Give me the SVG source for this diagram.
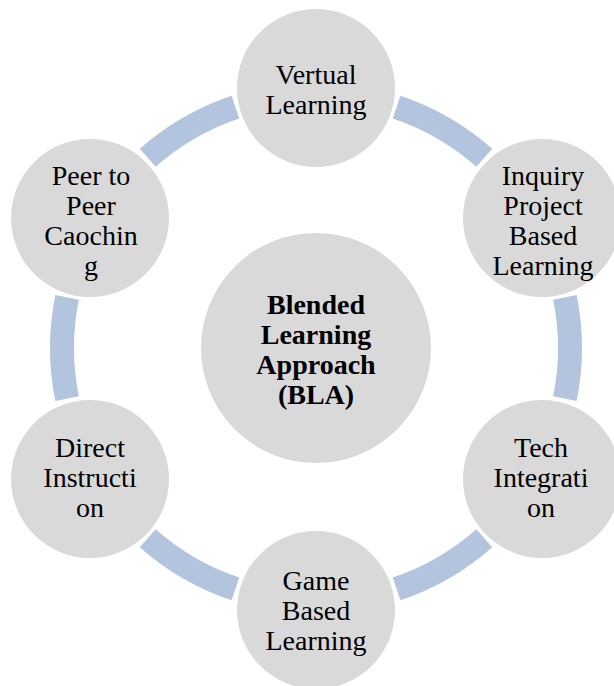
<svg xmlns="http://www.w3.org/2000/svg" width="614" height="686" viewBox="0 0 614 686">
  <style>
    .arc { fill: none; stroke: #b3c4df; stroke-width: 24; stroke-linecap: butt; }
    .node { fill: #d9d9d9; stroke: #ffffff; stroke-width: 2; }
    .lbl { font-family: "Liberation Serif", "Times New Roman", serif; font-size: 28px; fill: #000000; text-anchor: middle; }
    .bold { font-weight: bold; }
  </style>
  <rect width="614" height="686" fill="#ffffff"/>
  <g id="connectors">
    <path class="arc" d="M396.6,107.1 A254,254 0 0 1 484.3,157.8"/>
    <path class="arc" d="M564.9,297.4 A254,254 0 0 1 564.9,398.6"/>
    <path class="arc" d="M484.3,538.2 A254,254 0 0 1 396.6,588.9"/>
    <path class="arc" d="M235.4,588.9 A254,254 0 0 1 147.7,538.2"/>
    <path class="arc" d="M67.1,398.6 A254,254 0 0 1 67.1,297.4"/>
    <path class="arc" d="M147.7,157.8 A254,254 0 0 1 235.4,107.1"/>
  </g>
  <g id="center">
    <circle class="node" cx="316" cy="348" r="116"/>
    <text class="lbl bold" x="316" y="314">Blended</text>
    <text class="lbl bold" x="316" y="344">Learning</text>
    <text class="lbl bold" x="316" y="374">Approach</text>
    <text class="lbl bold" x="316" y="404">(BLA)</text>
  </g>
  <g id="vertual">
    <circle class="node" cx="316" cy="88" r="80"/>
    <text class="lbl" x="316" y="84">Vertual</text>
    <text class="lbl" x="316" y="114">Learning</text>
  </g>
  <g id="inquiry">
    <circle class="node" cx="542" cy="218" r="80"/>
    <text class="lbl" x="543" y="185">Inquiry</text>
    <text class="lbl" x="543" y="215">Project</text>
    <text class="lbl" x="543" y="245">Based</text>
    <text class="lbl" x="543" y="275">Learning</text>
  </g>
  <g id="tech">
    <circle class="node" cx="542" cy="479" r="80"/>
    <text class="lbl" x="541" y="457">Tech</text>
    <text class="lbl" x="541" y="487">Integrati</text>
    <text class="lbl" x="541" y="517">on</text>
  </g>
  <g id="game">
    <circle class="node" cx="316" cy="610" r="80"/>
    <text class="lbl" x="316" y="590">Game</text>
    <text class="lbl" x="316" y="620">Based</text>
    <text class="lbl" x="316" y="650">Learning</text>
  </g>
  <g id="direct">
    <circle class="node" cx="90" cy="479" r="80"/>
    <text class="lbl" x="90" y="457">Direct</text>
    <text class="lbl" x="90" y="487">Instructi</text>
    <text class="lbl" x="90" y="517">on</text>
  </g>
  <g id="peer">
    <circle class="node" cx="90" cy="218" r="80"/>
    <text class="lbl" x="91" y="185">Peer to</text>
    <text class="lbl" x="91" y="215">Peer</text>
    <text class="lbl" x="91" y="245">Caochin</text>
    <text class="lbl" x="91" y="275">g</text>
  </g>
</svg>
